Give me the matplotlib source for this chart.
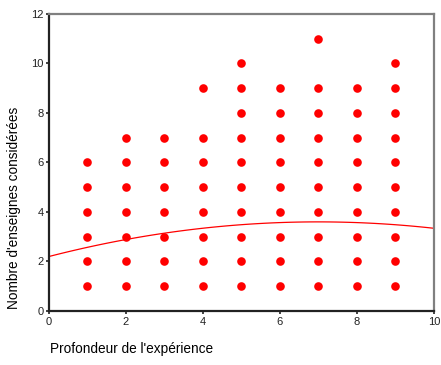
"""
Scatter of number of considered brands vs depth of experience, with quadratic fit
"""
import numpy as np
from matplotlib import pyplot as plt

plt.rcParams['font.family'] = ['Liberation Sans', 'DejaVu Sans']

# Observed values per experience level (overlapping points drawn once)
experience = [1, 2, 3, 4, 5, 6, 7, 8, 9]
brands = [
    [1, 2, 3, 4, 5, 6],
    [1, 2, 3, 4, 5, 6, 7],
    [1, 2, 3, 4, 5, 6, 7],
    [1, 2, 3, 4, 5, 6, 7, 9],
    [1, 2, 3, 4, 5, 6, 7, 8, 9, 10],
    [1, 2, 3, 4, 5, 6, 7, 8, 9],
    [1, 2, 3, 4, 5, 6, 7, 8, 9, 11],
    [1, 2, 3, 4, 5, 6, 7, 8, 9],
    [1, 2, 3, 4, 5, 6, 7, 8, 9, 10],
]
# Quadratic fit: a*x^2 + b*x + c
fit_coeffs = [-0.0286, 0.4, 2.2]

RED = '#ff0000'

fig = plt.figure(figsize=(4.41, 3.65), dpi=100)
ax = fig.add_axes([0.111, 0.148, 0.873, 0.814])

for x, ys in zip(experience, brands):
    ax.plot([x] * len(ys), ys, linestyle='none', marker='o', markersize=6.2,
            color=RED, markeredgewidth=0)

xs = np.linspace(0, 10, 60)
ax.plot(xs, np.polyval(fit_coeffs, xs), color=RED, linewidth=0.9)

ax.set_xlim(0, 10)
ax.set_ylim(0, 12)
ax.set_xticks(range(0, 11, 2))
ax.set_yticks(range(0, 13, 2))
ax.tick_params(labelsize=8, length=2, width=1.2, colors='#222222', pad=2)

for side in ('left', 'bottom'):
    ax.spines[side].set_color('#222222')
    ax.spines[side].set_linewidth(1.6)
for side in ('top', 'right'):
    ax.spines[side].set_color('#808080')
    ax.spines[side].set_linewidth(1.6)

fig.text(0.032, 0.430, "Nombre d'enseignes considérées", fontsize=9.8,
         rotation=90, ha='center', va='center')
fig.text(0.113, 0.025, "Profondeur de l'expérience", fontsize=9.8, ha='left',
         va='bottom')

fig.savefig('out.png', dpi=100)
